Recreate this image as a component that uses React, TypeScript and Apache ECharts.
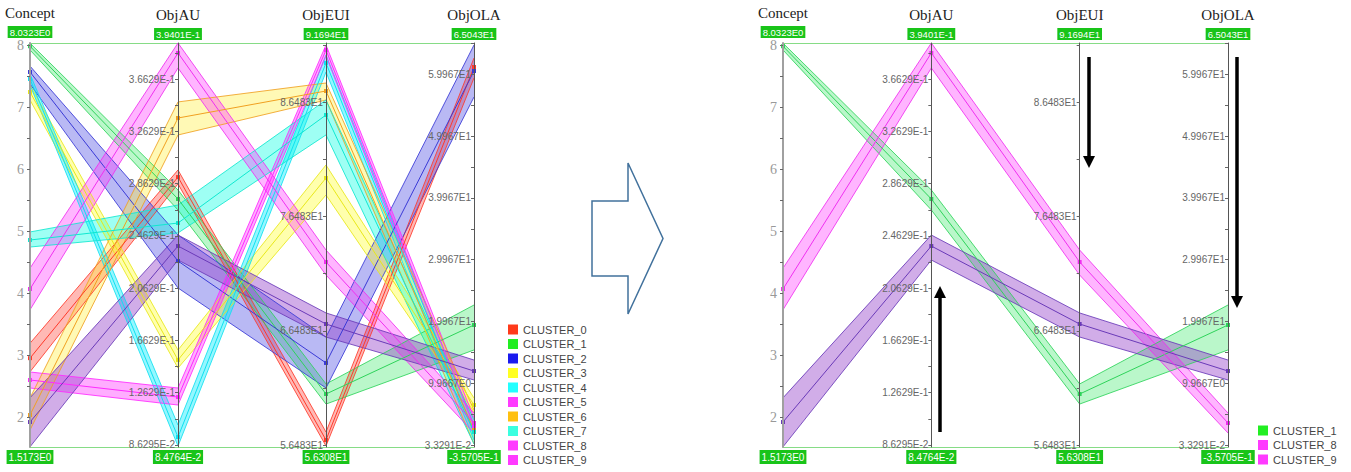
import React, { useEffect, useRef } from "react";
import * as echarts from "echarts";

// ---------- axes ----------
const axisNames = ["Concept", "ObjAU", "ObjEUI", "ObjOLA"];
const axisMin = [1.5173, 0.084764, 56.308, -0.35705];
const axisMax = [8.0323, 0.39401, 91.694, 65.043];
const axisMaxText = ["8.0323E0", "3.9401E-1", "9.1694E1", "6.5043E1"];
const axisMinText = ["1.5173E0", "8.4764E-2", "5.6308E1", "-3.5705E-1"];

const conceptTicks = [2, 3, 4, 5, 6, 7, 8];
const conceptTickLabels = ["2", "3", "4", "5", "6", "7", "8"];
const objAUTicks = [0.086295, 0.126295, 0.166295, 0.206295, 0.246295, 0.286295, 0.326295, 0.366295];
const objAUTickLabels = ["8.6295E-2", "1.2629E-1", "1.6629E-1", "2.0629E-1", "2.4629E-1", "2.8629E-1", "3.2629E-1", "3.6629E-1"];
const objEUITicks = [56.483, 66.483, 76.483, 86.483];
const objEUITickLabels = ["5.6483E1", "6.6483E1", "7.6483E1", "8.6483E1"];
const objOLATicks = [-0.033291, 9.9667, 19.967, 29.967, 39.967, 49.967, 59.967];
const objOLATickLabels = ["3.3291E-2", "9.9667E0", "1.9967E1", "2.9967E1", "3.9967E1", "4.9967E1", "5.9967E1"];
const minorStep = [0.5, 0.02, 5, 5];

// ---------- clusters: [Concept, ObjAU, ObjEUI, ObjOLA] ----------
const clusterNames = ["CLUSTER_0", "CLUSTER_1", "CLUSTER_2", "CLUSTER_3", "CLUSTER_4", "CLUSTER_5", "CLUSTER_6", "CLUSTER_7", "CLUSTER_8", "CLUSTER_9"];

const c0Hi = [3.19, 0.2968, 57.62, 62.61];
const c0Mid = [2.95, 0.2914, 56.92, 61.16];
const c0Lo = [2.73, 0.2862, 56.4, 59.38];

const c1Hi = [8.03, 0.2815, 61.83, 22.63];
const c1Mid = [7.98, 0.2746, 60.95, 19.39];
const c1Lo = [7.92, 0.2662, 60.07, 15.35];

const c2Hi = [7.66, 0.247, 65.94, 64.72];
const c2Mid = [7.565, 0.2271, 63.67, 60.51];
const c2Lo = [7.37, 0.2065, 61.48, 56.3];

const c3Hi = [7.355, 0.159, 81.01, 7.57];
const c3Mid = [7.242, 0.1514, 79.87, 6.44];
const c3Lo = [7.113, 0.1452, 78.38, 5.31];

const c4Hi = [7.532, 0.1016, 90.64, 3.21];
const c4Mid = [7.452, 0.0924, 89.94, 2.07];
const c4Lo = [7.355, 0.0855, 89.15, 0.78];

const c5Hi = [2.727, 0.1299, 91.52, 4.34];
const c5Mid = [2.598, 0.123, 91.08, 3.04];
const c5Lo = [2.469, 0.1169, 90.56, 1.91];

const c6Hi = [2.308, 0.3489, 88.19, 5.63];
const c6Mid = [2.033, 0.3366, 87.49, 2.39];
const c6Lo = [1.791, 0.3236, 86.7, 0.13];

const c7Hi = [4.985, 0.27, 86.7, 4.01];
const c7Mid = [4.855, 0.2562, 85.39, 2.07];
const c7Lo = [4.742, 0.2486, 83.64, 0.13];

const c8Hi = [4.4, 0.394, 73.56, 5.14];
const c8Mid = [4.065, 0.3864, 72.51, 3.53];
const c8Lo = [3.73, 0.3749, 71.37, 1.91];

const c9Hi = [2.31, 0.247, 68.05, 13.72];
const c9Mid = [1.92, 0.2386, 67.08, 11.94];
const c9Lo = [1.52, 0.2279, 65.94, 10.49];

const leftClusters = [0, 1, 2, 3, 4, 5, 6, 7, 8, 9];
const rightClusters = [1, 8, 9];

const fillColors = [
  "rgba(255,70,60,0.38)",
  "rgba(40,230,90,0.32)",
  "rgba(70,70,225,0.38)",
  "rgba(255,255,40,0.38)",
  "rgba(0,235,255,0.42)",
  "rgba(255,40,255,0.38)",
  "rgba(255,240,60,0.38)",
  "rgba(0,255,225,0.38)",
  "rgba(255,60,255,0.38)",
  "rgba(145,60,200,0.42)",
];
const lineColors = ["#ff3a2a", "#2ed35a", "#3a3ad6", "#e8e81a", "#10e0f0", "#ff2aff", "#f0a020", "#10e8d0", "#f030f0", "#6a3ab8"];
const legendColors = ["#ff3a1a", "#22ee22", "#1a1aee", "#ffff22", "#22ffff", "#ff3aff", "#ffc010", "#3affe0", "#ff3aff", "#ff3aff"];

export default function App() {
  const ref = useRef<HTMLDivElement>(null);
  useEffect(() => {
    if (!ref.current) return;
    const chart = echarts.init(ref.current, null, { renderer: "svg" });

    const clusterHi = [c0Hi, c1Hi, c2Hi, c3Hi, c4Hi, c5Hi, c6Hi, c7Hi, c8Hi, c9Hi];
    const clusterMid = [c0Mid, c1Mid, c2Mid, c3Mid, c4Mid, c5Mid, c6Mid, c7Mid, c8Mid, c9Mid];
    const clusterLo = [c0Lo, c1Lo, c2Lo, c3Lo, c4Lo, c5Lo, c6Lo, c7Lo, c8Lo, c9Lo];
    const majorTicks = [conceptTicks, objAUTicks, objEUITicks, objOLATicks];
    const tickLabels = [conceptTickLabels, objAUTickLabels, objEUITickLabels, objOLATickLabels];
    const allTicks = majorTicks.map((arr, k) => {
      const out: number[] = [];
      const tol = minorStep[k] * 0.01;
      const add = (m: number) => {
        if (m > axisMin[k] && m < axisMax[k] && !out.some((o) => Math.abs(o - m) < tol)) out.push(m);
      };
      arr.forEach((v) => {
        add(v);
        add(v - minorStep[k]);
        add(v + minorStep[k]);
      });
      return out.sort((a, b) => a - b);
    });

    const norm = (v: number, k: number) => (v - axisMin[k]) / (axisMax[k] - axisMin[k]);

    const gridTop = 43;
    const gridHeight = 404;
    const panels = [
      { left: 30, width: 444, clusters: leftClusters, legendLeft: 508, legendTop: 324 },
      { left: 783, width: 445, clusters: rightClusters, legendLeft: 1258, legendTop: 425 },
    ];

    const grids: any[] = [];
    const xAxes: any[] = [];
    const yAxes: any[] = [];
    const series: any[] = [];

    panels.forEach((pn, p) => {
      grids.push({ left: pn.left, top: gridTop, width: pn.width, height: gridHeight, containLabel: false, outerBoundsMode: "none" });
      ["bottom", "top"].forEach((pos) =>
        xAxes.push({
          type: "value",
          gridIndex: p,
          position: pos,
          min: 0,
          max: 3,
          axisLine: { show: true, onZero: false, lineStyle: { color: "#86dc86", width: 1.2 } },
          axisTick: { show: false },
          axisLabel: { show: false },
          splitLine: { show: false },
        })
      );
      // visible axes
      for (let k = 0; k < 4; k++) {
        const isConcept = k === 0;
        yAxes.push({
          type: "value",
          gridIndex: p,
          position: "left",
          offset: -(k * pn.width) / 3,
          min: axisMin[k],
          max: axisMax[k],
          z: 6,
          axisLine: { show: true, onZero: false, lineStyle: { color: isConcept ? "#a0a0a0" : "#555", width: isConcept ? 2 : 1 } },
          axisTick: { show: true, customValues: allTicks[k], length: 3, lineStyle: { color: "#666" } },
          axisLabel: {
            show: true,
            customValues: majorTicks[k],
            margin: isConcept ? 6 : 3,
            color: isConcept ? "#999" : "#666",
            fontSize: isConcept ? 14 : 10,
            fontFamily: isConcept ? "Liberation Serif" : "Liberation Sans",
            formatter: (v: number) => {
              const i = majorTicks[k].findIndex((t) => Math.abs(t - v) < minorStep[k] * 0.01);
              return i >= 0 ? tickLabels[k][i] : "";
            },
          },
          splitLine: { show: false },
          name: `{t|${axisNames[k]}}\n{b|${axisMaxText[k]}}`,
          nameLocation: "end",
          nameGap: 4,
          nameTextStyle: {
            align: "center",
            rich: {
              t: { fontFamily: "Liberation Serif", fontSize: 15, color: "#222", lineHeight: 28, align: "center" },
              b: { fontFamily: "Liberation Sans", fontSize: 9.5, color: "#fff", backgroundColor: "#19c419", padding: [1, 2], lineHeight: 10, align: "center" },
            },
          },
        });
      }
      // bottom-name axes
      for (let k = 0; k < 4; k++) {
        yAxes.push({
          type: "value",
          gridIndex: p,
          position: "left",
          offset: -(k * pn.width) / 3,
          min: 0,
          max: 1,
          axisLine: { show: false, onZero: false },
          axisTick: { show: false },
          axisLabel: { show: false },
          splitLine: { show: false },
          name: `{b|${axisMinText[k]}}`,
          nameLocation: "start",
          nameGap: 5,
          nameTextStyle: {
            align: "center",
            rich: {
              b: { fontFamily: "Liberation Sans", fontSize: 10, color: "#fff", backgroundColor: "#19c419", padding: [2, 2], lineHeight: 10, align: "center" },
            },
          },
        });
      }
      // hidden normalized axis
      yAxes.push({ type: "value", gridIndex: p, position: "left", show: false, min: 0, max: 1, axisLine: { onZero: false } });

      const xIdx = p * 2;
      const yIdx = p * 9 + 8;
      pn.clusters.forEach((c) => {
        const hi = clusterHi[c].map((v, k) => norm(v, k));
        const mid = clusterMid[c].map((v, k) => norm(v, k));
        const lo = clusterLo[c].map((v, k) => norm(v, k));
        series.push({
          type: "custom",
          name: clusterNames[c],
          xAxisIndex: xIdx,
          yAxisIndex: yIdx,
          silent: true,
          z: 2,
          itemStyle: { color: legendColors[c] },
          dimensions: ["i", "h0", "l0", "h1", "l1"],
          encode: { x: 0, y: [1, 2, 3, 4] },
          data: [0, 1, 2].map((i) => [i, hi[i], lo[i], hi[i + 1], lo[i + 1]]),
          renderItem: (params: any, api: any) => {
            const i = api.value(0);
            const pts = [
              api.coord([i, api.value(1)]),
              api.coord([i + 1, api.value(3)]),
              api.coord([i + 1, api.value(4)]),
              api.coord([i, api.value(2)]),
            ];
            return { type: "polygon", shape: { points: pts }, style: { fill: fillColors[c], stroke: "none" } };
          },
        });
        [hi, lo].forEach((arr) =>
          series.push({
            type: "line",
            name: clusterNames[c],
            xAxisIndex: xIdx,
            yAxisIndex: yIdx,
            silent: true,
            z: 3,
            symbol: "none",
            data: arr.map((v, i) => [i, v]),
            lineStyle: { color: lineColors[c], width: 1, opacity: 0.85 },
            itemStyle: { color: lineColors[c] },
          })
        );
        series.push({
          type: "line",
          name: clusterNames[c],
          xAxisIndex: xIdx,
          yAxisIndex: yIdx,
          silent: true,
          z: 4,
          symbol: "rect",
          symbolSize: 4,
          showSymbol: true,
          data: mid.map((v, i) => [i, v]),
          lineStyle: { color: lineColors[c], width: 1 },
          itemStyle: { color: lineColors[c] },
        });
      });
    });

    const legends = panels.map((pn) => ({
      orient: "vertical",
      left: pn.legendLeft,
      top: pn.legendTop,
      padding: 0,
      itemWidth: 10,
      itemHeight: 10,
      itemGap: 3.5,
      icon: "rect",
      selectedMode: false,
      textStyle: { fontSize: 11, color: "#444", fontFamily: "Liberation Sans", lineHeight: 11 },
      data: pn.clusters.map((c) => ({ name: clusterNames[c], itemStyle: { color: legendColors[c], borderWidth: 0 } })),
    }));

    const blockArrow = [[592, 201], [628, 201], [628, 163], [663, 238.5], [628, 314], [628, 276], [592, 276]];
    const blackArrows = [
      { x: 1089, from: 57, to: 168 },
      { x: 1237, from: 57, to: 308 },
      { x: 940, from: 432, to: 286 },
    ];
    const graphic: any[] = [
      {
        type: "polygon",
        shape: { points: blockArrow },
        style: { fill: "#fff", stroke: "#41719c", lineWidth: 1.5 },
        z: 10,
      },
    ];
    blackArrows.forEach((a) => {
      const dir = a.to > a.from ? 1 : -1;
      graphic.push({
        type: "line",
        shape: { x1: a.x, y1: a.from, x2: a.x, y2: a.to - dir * 10 },
        style: { stroke: "#000", lineWidth: 3.5 },
        z: 10,
      });
      graphic.push({
        type: "polygon",
        shape: { points: [[a.x - 6, a.to - dir * 12], [a.x + 6, a.to - dir * 12], [a.x, a.to]] },
        style: { fill: "#000" },
        z: 10,
      });
    });

    chart.setOption({
      animation: false,
      backgroundColor: "#fff",
      textStyle: { fontFamily: "Liberation Sans" },
      grid: grids,
      xAxis: xAxes,
      yAxis: yAxes,
      legend: legends,
      series,
      graphic,
    });
    return () => chart.dispose();
  }, []);
  return <div ref={ref} style={{ position: "fixed", left: 0, top: 0, width: 1351, height: 472, background: "#fff" }} />;
}
